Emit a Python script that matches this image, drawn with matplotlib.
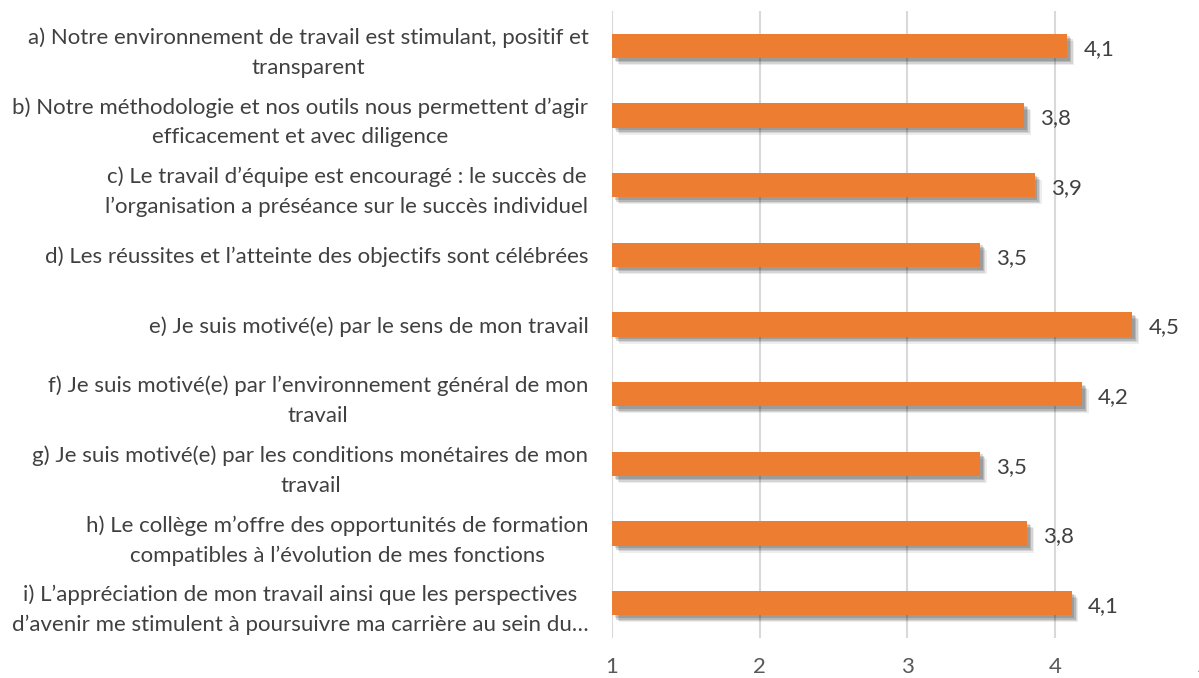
import matplotlib
matplotlib.use("Agg")
import matplotlib.pyplot as plt
import matplotlib.patheffects as pe
import numpy as np

plt.rcParams['font.family'] = ['Lato', 'DejaVu Sans']

categories = [
    "a) Notre environnement de travail est stimulant, positif et\ntransparent",
    "b) Notre méthodologie et nos outils nous permettent d\u2019agir\nefficacement et avec diligence",
    "c) Le travail d\u2019équipe est encouragé : le succès de\nl\u2019organisation a préséance sur le succès individuel",
    "d) Les réussites et l\u2019atteinte des objectifs sont célébrées",
    "e) Je suis motivé(e) par le sens de mon travail",
    "f) Je suis motivé(e) par l\u2019environnement général de mon\ntravail",
    "g) Je suis motivé(e) par les conditions monétaires de mon\ntravail",
    "h) Le collège m\u2019offre des opportunités de formation\ncompatibles à l\u2019évolution de mes fonctions",
    "i) L\u2019appréciation de mon travail ainsi que les perspectives\nd\u2019avenir me stimulent à poursuivre ma carrière au sein du\u2026",
]
scores = [4.08, 3.79, 3.86, 3.49, 4.52, 4.18, 3.49, 3.81, 4.11]
x_ticks = [1, 2, 3, 4, 5]

W, H = 1199, 678
fig = plt.figure(figsize=(W / 100, H / 100), dpi=100)
ax = fig.add_axes([612 / W, 40 / H, (1203 - 612) / W, (638 - 11) / H])

y = np.arange(len(categories))
bar_color = "#ED7D31"
shadow = [
    pe.SimplePatchShadow(offset=(5, -5), shadow_rgbFace="#000000", alpha=0.07),
    pe.SimplePatchShadow(offset=(4, -4), shadow_rgbFace="#000000", alpha=0.10),
    pe.SimplePatchShadow(offset=(3, -3), shadow_rgbFace="#000000", alpha=0.14),
    pe.SimplePatchShadow(offset=(2, -2), shadow_rgbFace="#000000", alpha=0.14),
    pe.Normal(),
]
bars = ax.barh(y, np.array(scores) - 1, left=1, height=0.35,
               color=bar_color, zorder=3)
for b in bars:
    b.set_path_effects(shadow)

for yi, v in zip(y, scores):
    ax.text(v + 0.11, yi + 0.04, f"{v:.1f}".replace(".", ","),
            va="center", ha="left", fontsize=16, color="#404040", zorder=4)

ax.set_xlim(1, 5)
ax.set_ylim(len(categories) - 0.5, -0.5)
ax.set_xticks(x_ticks)
ax.set_xticklabels([str(t) for t in x_ticks])
ax.set_yticks(y)
ax.set_yticklabels(categories, multialignment="center", linespacing=1.6)
ax.tick_params(axis="y", length=0, pad=17, labelsize=16, labelcolor="#404040")
ax.tick_params(axis="x", length=0, pad=14, labelsize=16, labelcolor="#595959")
ax.grid(axis="x", color="#D9D9D9", linewidth=1.5, zorder=0)
ax.set_axisbelow(True)
for s in ax.spines.values():
    s.set_visible(False)

fig.savefig("out.png", dpi=100)
